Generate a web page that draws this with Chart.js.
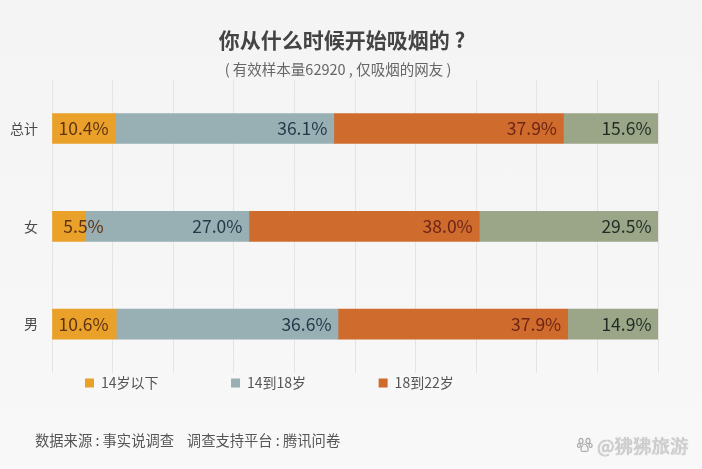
<!DOCTYPE html>
<html>
<head>
<meta charset="utf-8">
<script src="https://cdn.jsdelivr.net/npm/chart.js@4"></script>
<style>
html,body{margin:0;padding:0;background:#f6f6f6;}
#wrap{position:relative;width:702px;height:469px;overflow:hidden;background:linear-gradient(#f4f4f4,#f8f8f8);}
canvas{position:absolute;left:0;top:0;}
.t{position:absolute;white-space:pre;font-family:"Noto Sans CJK SC","Noto Sans",sans-serif;}
#src{left:35px;top:430px;font-size:14.3px;line-height:20px;color:#555;}
#mark{left:597px;top:433px;font-size:18.5px;line-height:24px;color:#d4d4d4;text-shadow:0 0 1px #888;}
#paw{position:absolute;left:577px;top:437px;}
</style>
</head>
<body>
<div id="wrap">
<canvas id="c" width="702" height="469"></canvas>
<div class="t" id="src">数据来源 : 事实说调查    调查支持平台 : 腾讯问卷</div>
<svg id="paw" width="16" height="16" viewBox="0 0 16 16"><g fill="#f4f4f4" stroke="#aaa" stroke-width="1.2"><ellipse cx="4" cy="4" rx="2" ry="2.6"/><ellipse cx="11" cy="4" rx="2" ry="2.6"/><ellipse cx="1.9" cy="8.5" rx="1.5" ry="2"/><ellipse cx="13.6" cy="8.5" rx="1.5" ry="2"/><path d="M7.5 7C5.5 7 3.5 11 4 13.2 4.6 15 6.5 14.5 7.5 14.3 8.5 14.5 10.6 15 11.2 13.2 11.6 11 9.5 7 7.5 7Z"/></g></svg>
<div class="t" id="mark">@狒狒旅游</div>
</div>
<script>
const categories = ['总计', '女', '男'];
const under14 = [10.4, 5.5, 10.6];
const from14to18 = [36.1, 27.0, 36.6];
const from18to22 = [37.9, 38.0, 37.9];
const lastGroup = [15.6, 29.5, 14.9];
const seriesNames = ['14岁以下', '14到18岁', '18到22岁', ''];
const seriesColors = ['#eaa12a', '#98afb4', '#cf6b2c', '#9ba688'];
const labelColors = ['#5f3313', '#26394a', '#6d2517', '#1f2d24'];
const FONT = '"Noto Sans CJK SC","Noto Sans",sans-serif';

const barLabels = {
  id: 'barLabels',
  afterDatasetsDraw(chart) {
    const ctx = chart.ctx, xs = chart.scales.x;
    ctx.save();
    ctx.font = '17.5px ' + FONT;
    ctx.textBaseline = 'middle';
    chart.data.datasets.forEach((ds, i) => {
      chart.getDatasetMeta(i).data.forEach((bar, j) => {
        const txt = ds.data[j].toFixed(1) + '%';
        ctx.fillStyle = labelColors[i];
        if (i === 0) {
          ctx.textAlign = 'center';
          ctx.fillText(txt, xs.getPixelForValue(5.2), bar.y);
        } else {
          ctx.textAlign = 'right';
          ctx.fillText(txt, bar.x - 6.5, bar.y);
        }
      });
    });
    ctx.restore();
  }
};

const placeBlocks = {
  id: 'placeBlocks',
  beforeLayout(chart) {
    const lg = chart.legend;
    if (lg && !lg._wrapped) {
      const f = lg.fit;
      lg.fit = function () { f.call(this); this.height = 20; };
      lg._wrapped = true;
    }
  },
  afterLayout(chart) {
    const lg = chart.legend, p = lg.options.labels.padding;
    lg.left = 85 - p;
    lg.top = 376 - p;
    chart.boxes.forEach(b => {
      if (b.options && b.options.text && b !== lg) {
        const isTitle = b.options.text === chart.options.plugins.title.text;
        const dx = isTitle ? 13 : 9;
        b.left += dx; b.right += dx;
      }
    });
  }
};

new Chart(document.getElementById('c'), {
  type: 'bar',
  data: {
    labels: categories,
    datasets: [under14, from14to18, from18to22, lastGroup].map((d, i) => ({
      label: seriesNames[i],
      data: d,
      backgroundColor: seriesColors[i],
      borderWidth: 0,
      barThickness: 30
    }))
  },
  plugins: [barLabels, placeBlocks],
  options: {
    indexAxis: 'y',
    responsive: false,
    animation: false,
    layout: { padding: { left: 0, right: 44, top: 0, bottom: 76 } },
    scales: {
      x: {
        stacked: true, min: 0, max: 100,
        ticks: { display: false, stepSize: 10 },
        border: { display: false },
        grid: { color: '#e4e4e4', lineWidth: 1, drawTicks: false }
      },
      y: {
        stacked: true,
        afterFit(s) { s.width = 52; },
        ticks: { color: '#4a4a4a', padding: 14, font: { size: 14, family: FONT } },
        border: { display: false },
        grid: { display: false, drawTicks: false }
      }
    },
    plugins: {
      tooltip: { enabled: false },
      title: {
        display: true, text: '你从什么时候开始吸烟的 ?', color: '#444',
        font: { size: 21, weight: 'bold', family: FONT },
        padding: { top: 27, bottom: 7 }
      },
      subtitle: {
        display: true, text: '( 有效样本量62920 , 仅吸烟的网友 )', color: '#666',
        font: { size: 14.5, family: FONT },
        padding: { top: 2, bottom: 1 }
      },
      legend: {
        position: 'bottom', align: 'start',
        labels: {
          boxWidth: 9, boxHeight: 9, padding: 72.5, color: '#555',
          font: { size: 14, family: FONT },
          filter: item => item.text !== ''
        }
      }
    }
  }
});
</script>
</body>
</html>
